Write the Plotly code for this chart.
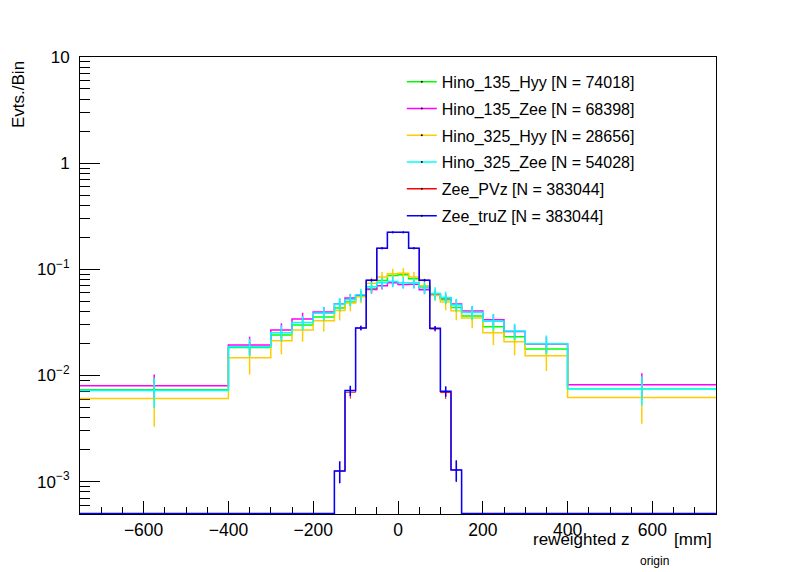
import plotly.graph_objects as go

# bin edges of the z_origin histograms [mm]
edges = [-750, -400, -300, -250, -200, -150, -125, -100, -75, -50, -25, 0,
         25, 50, 75, 100, 125, 150, 200, 250, 300, 400, 750]

hino135_hyy = [7.34e-3, 1.83e-2, 2.41e-2, 2.99e-2, 3.56e-2, 4.32e-2, 4.92e-2, 5.65e-2,
               6.6e-2, 7.85e-2, 8.75e-2, 8.88e-2, 8.14e-2, 6.8e-2, 5.77e-2, 5.17e-2,
               4.36e-2, 3.64e-2, 2.87e-2, 2.31e-2, 1.78e-2, 7.5e-3]
hino135_hyy_err = [1.4e-3, 2.4e-3, 2.8e-3, 3.2e-3, 3.4e-3, 3.8e-3, 4.0e-3, 4.2e-3,
                   4.5e-3, 4.8e-3, 5.0e-3, 5.0e-3, 4.8e-3, 4.5e-3, 4.2e-3, 4.0e-3,
                   3.8e-3, 3.4e-3, 3.2e-3, 2.8e-3, 2.4e-3, 1.4e-3]

hino135_zee = [8.0e-3, 1.94e-2, 2.68e-2, 3.40e-2, 3.96e-2, 4.75e-2, 5.36e-2, 5.7e-2,
               6.45e-2, 7.0e-2, 7.46e-2, 7.2e-2, 7.25e-2, 6.42e-2, 5.85e-2, 5.36e-2,
               4.71e-2, 4.05e-2, 3.34e-2, 2.6e-2, 1.98e-2, 8.18e-3]
hino135_zee_err = [2.2e-3, 3.8e-3, 4.2e-3, 5.0e-3, 4.6e-3, 5.0e-3, 5.0e-3, 5.0e-3,
                   5.5e-3, 5.5e-3, 5.5e-3, 5.5e-3, 5.5e-3, 5.5e-3, 5.0e-3, 5.0e-3,
                   4.6e-3, 4.2e-3, 4.2e-3, 3.8e-3, 3.2e-3, 2.3e-3]

hino325_hyy = [6.08e-3, 1.47e-2, 2.12e-2, 2.68e-2, 3.27e-2, 4.10e-2, 4.82e-2, 5.5e-2,
               7.4e-2, 8.45e-2, 9.07e-2, 9.2e-2, 8.45e-2, 7.0e-2, 5.67e-2, 4.92e-2,
               4.07e-2, 3.48e-2, 2.53e-2, 2.08e-2, 1.53e-2, 6.21e-3]
hino325_hyy_err = [2.8e-3, 4.5e-3, 5.4e-3, 6.0e-3, 6.8e-3, 8.0e-3, 8.0e-3, 7.0e-3,
                   9.5e-3, 1.0e-2, 1.05e-2, 1.05e-2, 1.0e-2, 9.5e-3, 6.0e-3, 8.0e-3,
                   7.6e-3, 7.0e-3, 6.0e-3, 5.3e-3, 4.3e-3, 2.7e-3]

hino325_zee = [7.23e-3, 1.86e-2, 2.52e-2, 3.15e-2, 3.85e-2, 4.71e-2, 5.18e-2, 5.77e-2,
               6.85e-2, 7.46e-2, 7.68e-2, 7.46e-2, 7.46e-2, 6.66e-2, 5.93e-2, 5.43e-2,
               4.61e-2, 3.93e-2, 3.24e-2, 2.62e-2, 1.99e-2, 7.5e-3]
hino325_zee_err = [2.3e-3, 3.6e-3, 4.4e-3, 5.0e-3, 5.8e-3, 6.5e-3, 7.0e-3, 8.0e-3,
                   8.5e-3, 9.0e-3, 9.2e-3, 9.0e-3, 9.0e-3, 8.5e-3, 8.5e-3, 7.2e-3,
                   6.6e-3, 6.0e-3, 5.6e-3, 4.5e-3, 3.9e-3, 2.3e-3]

zee_pvz = [0, 0, 0, 0, 0, 1.26e-3, 6.95e-3, 2.8e-2,
           7.9e-2, 0.158, 0.223, 0.223, 0.158, 7.9e-2, 2.74e-2, 6.9e-3,
           1.29e-3, 0, 0, 0, 0, 0]
zee_pvz_err = [0, 0, 0, 0, 0, 3.0e-4, 9e-4, 1.4e-3,
               2.2e-3, 3.5e-3, 4.5e-3, 4.5e-3, 3.5e-3, 2.2e-3, 1.5e-3, 9e-4,
               3.0e-4, 0, 0, 0, 0, 0]

zee_truz = [0, 0, 0, 0, 0, 1.26e-3, 7.2e-3, 2.8e-2,
            7.9e-2, 0.158, 0.223, 0.223, 0.158, 7.9e-2, 2.78e-2, 7.1e-3,
            1.29e-3, 0, 0, 0, 0, 0]
zee_truz_err = [0, 0, 0, 0, 0, 2.9e-4, 8e-4, 1.4e-3,
                2.2e-3, 3.5e-3, 4.5e-3, 4.5e-3, 3.5e-3, 2.2e-3, 1.4e-3, 8e-4,
                2.9e-4, 0, 0, 0, 0, 0]

labels = ["Hino_135_Hyy [N = 74018]", "Hino_135_Zee [N = 68398]",
          "Hino_325_Hyy [N = 28656]", "Hino_325_Zee [N = 54028]",
          "Zee_PVz [N = 383044]", "Zee_truZ [N = 383044]"]
colors = ["#00ff00", "#ff00ff", "#ffcc00", "#00ffff", "#ff0000", "#0000ff"]
widths = [1.5, 1.5, 1.5, 1.5, 1.0, 1.5]  # red thinner so blue sits on top of it
series = [(hino135_hyy, hino135_hyy_err), (hino135_zee, hino135_zee_err),
          (hino325_hyy, hino325_hyy_err), (hino325_zee, hino325_zee_err),
          (zee_pvz, zee_pvz_err), (zee_truz, zee_truz_err)]

YMIN = 5e-4  # empty bins are drawn on the frame bottom, like ROOT does
centers = [(a + b) / 2 for a, b in zip(edges[:-1], edges[1:])]

fig = go.Figure()
for (vals, errs), col, w in zip(series, colors, widths):
    shown = [v if v > 0 else YMIN for v in vals]
    fig.add_trace(go.Scatter(x=edges, y=shown + [shown[-1]], mode="lines",
                             line=dict(color=col, width=w, shape="hv"),
                             showlegend=False, hoverinfo="skip"))
    keep = [i for i, v in enumerate(vals) if v > 0]
    fig.add_trace(go.Scatter(x=[centers[i] for i in keep], y=[vals[i] for i in keep],
                             mode="markers", marker=dict(size=1, color=col),
                             error_y=dict(type="data", array=[errs[i] for i in keep],
                                          color=col, thickness=w, width=0),
                             showlegend=False, hoverinfo="skip"))

# legend entries (thin lines like the ROOT TLegend)
for i, (lab, col) in enumerate(zip(labels, colors)):
    fig.add_trace(go.Scatter(x=[None], y=[None], mode="lines+markers", name=lab,
                             legendgroup=str(i),
                             line=dict(color=col, width=1.5),
                             marker=dict(color="black", size=2)))

minor_y = [d * 10.0 ** k for k in range(-4, 1) for d in range(2, 10)]

# the page body has an 8px margin, so the figure is 8px smaller
fig.update_layout(
    width=788, height=564,
    margin=dict(l=72, r=80, t=49, b=58),
    paper_bgcolor="white", plot_bgcolor="white",
    font=dict(family="Liberation Sans, Arial, sans-serif", color="black"),
    showlegend=True,
    legend=dict(x=0.506, y=0.983, xanchor="left", yanchor="top",
                bgcolor="rgba(0,0,0,0)", borderwidth=0,
                font=dict(size=16), tracegroupgap=3, traceorder="grouped"),
    xaxis=dict(range=[-750, 750], tick0=0, dtick=200, ticks="inside", ticklen=13,
               tickcolor="black", showgrid=False, zeroline=False,
               showline=True, linecolor="black", linewidth=1, mirror=True,
               tickfont=dict(size=17.5), layer="below traces",
               minor=dict(dtick=50, tick0=0, ticks="inside", ticklen=7,
                          tickcolor="black", showgrid=False)),
    yaxis=dict(type="log", range=[-3.305, 1], tickmode="array",
               tickvals=[1e-3, 1e-2, 1e-1, 1, 10],
               ticktext=["10<sup>\u22123</sup>", "10<sup>\u22122</sup>",
                         "10<sup>\u22121</sup>", "1", "10"],
               ticks="inside", ticklen=20, tickcolor="black", showgrid=False,
               zeroline=False, showline=True, linecolor="black", linewidth=1,
               mirror=True, tickfont=dict(size=17), ticklabelstandoff=6,
               layer="below traces",
               minor=dict(tickvals=minor_y, ticks="inside", ticklen=10,
                          tickcolor="black", showgrid=False)),
)

# axis titles placed like the ROOT ones
fig.add_annotation(text="Evts./Bin", textangle=-90, xref="paper", yref="paper",
                   x=-0.0975, y=(514 - 94) / 457, xanchor="center", yanchor="middle",
                   showarrow=False, font=dict(size=17))
fig.add_annotation(text="reweighted z", xref="paper", yref="paper",
                   x=(631 - 80) / 636, y=-(539 - 514) / 457, xanchor="right",
                   yanchor="middle", showarrow=False, font=dict(size=17))
fig.add_annotation(text="origin", xref="paper", yref="paper",
                   x=(638 - 80) / 636, y=-(561 - 514) / 457, xanchor="left",
                   yanchor="middle", showarrow=False, font=dict(size=12))
fig.add_annotation(text="[mm]", xref="paper", yref="paper",
                   x=(714 - 80) / 636, y=-(539 - 514) / 457, xanchor="right",
                   yanchor="middle", showarrow=False, font=dict(size=17))

fig.write_html("out.html")
